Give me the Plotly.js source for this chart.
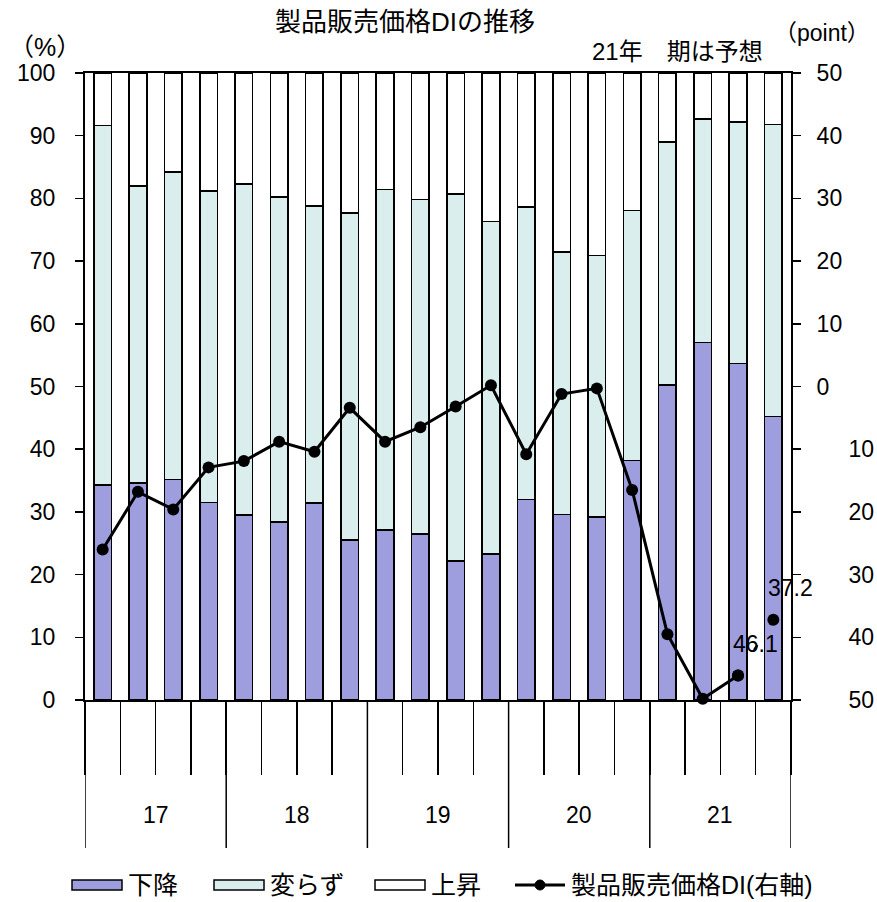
<!DOCTYPE html>
<html>
<head>
<meta charset="utf-8">
<script src="https://cdn.plot.ly/plotly-3.0.1.min.js"></script>
<style>
html,body{margin:0;padding:0;background:#fff;}
#chart{width:877px;height:902px;}
</style>
</head>
<body>
<div id="chart"></div>
<script>
// ---- data ----
var years = ['17', '18', '19', '20', '21'];
var quarters = ['1', '2', '3', '4'];
var categories = [];
years.forEach(function (y) { quarters.forEach(function (q) { categories.push(y + '-' + q); }); });

// 下降 (%)
var fall = [34.3, 34.6, 35.2, 31.5, 29.5, 28.4, 31.4, 25.5, 27.1, 26.5,
            22.2, 23.3, 32.0, 29.6, 29.2, 38.2, 50.2, 57.0, 53.7, 45.2];
// 変らず (%)
var unchanged = [57.3, 47.4, 49.0, 49.7, 52.8, 51.8, 47.4, 52.2, 54.3, 53.3,
                 58.5, 53.0, 46.6, 41.9, 41.7, 39.9, 38.8, 35.7, 38.5, 46.6];
// 上昇 (%)
var rise = [8.4, 18.0, 15.8, 18.8, 17.7, 19.8, 21.2, 22.3, 18.6, 20.2,
            19.3, 23.7, 21.4, 28.5, 29.1, 21.9, 11.0, 7.3, 7.8, 8.2];
// 製品販売価格DI (point, right axis)
var di = [-26.0, -16.8, -19.6, -12.9, -11.9, -8.8, -10.4, -3.4, -8.8, -6.5,
          -3.2, 0.2, -10.8, -1.2, -0.3, -16.5, -39.5, -49.8, -46.1, -37.2];
// labelled points (indexes)
var labelled = [18, 19];

var seriesNames = ['下降', '変らず', '上昇', '製品販売価格DI(右軸)'];
var leftTicks = [0, 10, 20, 30, 40, 50, 60, 70, 80, 90, 100];
var rightTicks = [-50, -40, -30, -20, -10, 0, 10, 20, 30, 40, 50];

// ---- styling ----
var NUM_FONT = 'Liberation Sans, Arial, Noto Sans CJK JP, sans-serif';
var JP_FONT = 'Liberation Sans, Arial, Noto Sans CJK JP, sans-serif';
var barColors = ['#9e9ede', '#daeeee', '#ffffff'];

var nSolid = di.length - 1; // last segment is drawn dashed
var barValues = [fall, unchanged, rise];

var traces = [];
barValues.forEach(function (vals, i) {
  traces.push({type: 'bar', name: seriesNames[i], x: categories, y: vals,
    marker: {color: barColors[i], line: {color: '#000', width: 1.6}}, hoverinfo: 'y+name'});
});
traces.push({type: 'scatter', mode: 'lines+markers', name: seriesNames[3],
   x: categories.slice(0, nSolid), y: di.slice(0, nSolid), yaxis: 'y2',
   line: {color: '#000', width: 3}, marker: {color: '#000', size: 12},
   cliponaxis: false});
traces.push({type: 'scatter', mode: 'lines+markers', name: seriesNames[3], showlegend: false,
   x: categories.slice(nSolid - 1), y: di.slice(nSolid - 1), yaxis: 'y2',
   line: {color: '#000', width: 2.5, dash: '6px,24px'}, marker: {color: '#000', size: 12},
   cliponaxis: false});

var L = 85, R = 86, T = 73, B = 202;
var W = 877, H = 902;
var plotW = W - L - R, plotH = H - T - B;
function px2paperX(px) { return (px - L) / plotW; }
function px2paperY(py) { return (H - B - py) / plotH; }

var shapes = [];
var annotations = [];
// year dividers (extend below the axis)
for (var k = 0; k <= years.length; k++) {
  shapes.push({type: 'line', xref: 'x', yref: 'paper',
    x0: k * quarters.length - 0.5, x1: k * quarters.length - 0.5,
    y0: 0, y1: -148 / plotH, line: {color: '#000', width: 1.5}});
}
// year labels
years.forEach(function (y, i) {
  annotations.push({xref: 'x', yref: 'paper', x: i * quarters.length + (quarters.length - 1) / 2,
    y: -115 / plotH, text: y, showarrow: false, yanchor: 'middle',
    font: {family: NUM_FONT, size: 23, color: '#000'}});
});
// value labels
labelled.forEach(function (i) {
  annotations.push({xref: 'x', yref: 'y2', x: i, y: di[i], text: Math.abs(di[i]).toFixed(1),
    showarrow: false, xshift: 17, yshift: 32,
    font: {family: NUM_FONT, size: 23, color: '#000'}});
});
// unit labels and note
annotations.push({xref: 'paper', yref: 'paper', x: px2paperX(45), y: px2paperY(47), text: '（%）',
  showarrow: false, xanchor: 'center', yanchor: 'middle', font: {family: JP_FONT, size: 25, color: '#000'}});
annotations.push({xref: 'paper', yref: 'paper', x: px2paperX(822), y: px2paperY(33), text: '（point）',
  showarrow: false, xanchor: 'center', yanchor: 'middle', font: {family: JP_FONT, size: 23, color: '#000'}});
annotations.push({xref: 'paper', yref: 'paper', x: px2paperX(677), y: px2paperY(52), text: '21年　期は予想',
  showarrow: false, xanchor: 'center', yanchor: 'middle', font: {family: JP_FONT, size: 24, color: '#000'}});

// legend (drawn to match the wide swatches of the original)
var legendY = 885;
var legendSwatchX = [72, 214, 375, 515];
var swatchW = 50, swatchH = 10;
seriesNames.forEach(function (name, i) {
  var x0 = legendSwatchX[i];
  if (i < 3) {
    shapes.push({type: 'rect', xref: 'paper', yref: 'paper',
      x0: px2paperX(x0), x1: px2paperX(x0 + swatchW),
      y0: px2paperY(legendY - swatchH / 2), y1: px2paperY(legendY + swatchH / 2),
      fillcolor: barColors[i], line: {color: '#000', width: 1.5}});
  } else {
    shapes.push({type: 'line', xref: 'paper', yref: 'paper',
      x0: px2paperX(x0), x1: px2paperX(x0 + swatchW),
      y0: px2paperY(legendY), y1: px2paperY(legendY), line: {color: '#000', width: 3}});
    shapes.push({type: 'circle', xref: 'paper', yref: 'paper',
      x0: px2paperX(x0 + swatchW / 2 - 5), x1: px2paperX(x0 + swatchW / 2 + 5),
      y0: px2paperY(legendY - 5), y1: px2paperY(legendY + 5),
      fillcolor: '#000', line: {color: '#000', width: 1}});
  }
  annotations.push({xref: 'paper', yref: 'paper', x: px2paperX(x0 + swatchW + 4), y: px2paperY(legendY),
    xanchor: 'left', yanchor: 'middle', text: name, showarrow: false,
    font: {family: JP_FONT, size: 25, color: '#000'}});
});

var layout = {
  width: W, height: H,
  margin: {l: L, r: R, t: T, b: B, pad: 0, autoexpand: false},
  paper_bgcolor: '#fff', plot_bgcolor: '#fff',
  barmode: 'stack', bargap: 0.5,
  title: {text: '製品販売価格DIの推移', x: 405 / W, xanchor: 'center', xref: 'container',
          y: 1 - 22 / H, yanchor: 'middle', yref: 'container',
          font: {family: JP_FONT, size: 26, color: '#000'}},
  font: {family: NUM_FONT, color: '#000'},
  xaxis: {type: 'category', categoryorder: 'array', categoryarray: categories,
    range: [-0.5, categories.length - 0.5], tickson: 'boundaries',
    ticks: 'outside', ticklen: 73, tickwidth: 1.5, tickcolor: '#000',
    showticklabels: false, showline: true, linecolor: '#000', linewidth: 2, mirror: true,
    showgrid: false, zeroline: false, fixedrange: true, automargin: false},
  yaxis: {range: [0, 100], tickvals: leftTicks, ticks: 'outside', ticklen: 8, tickwidth: 1.5,
    tickcolor: '#000', showline: true, linecolor: '#000', linewidth: 2, showgrid: false,
    zeroline: false, ticklabelstandoff: 15, automargin: false,
    tickfont: {family: NUM_FONT, size: 23, color: '#000'}},
  yaxis2: {overlaying: 'y', side: 'right', range: [-50, 50], tickvals: rightTicks,
    ticktext: rightTicks.map(function (v) { return (v < 0 ? '\u00a0\u00a0\u00a0\u00a0\u00a0' : '') + Math.abs(v); }),
    ticks: 'outside', ticklen: 8, tickwidth: 1.5, tickcolor: '#000',
    showline: true, linecolor: '#000', linewidth: 2, showgrid: false, zeroline: false,
    ticklabelstandoff: 11, automargin: false,
    tickfont: {family: NUM_FONT, size: 23, color: '#000'}},
  showlegend: false,
  shapes: shapes,
  annotations: annotations
};

Plotly.newPlot('chart', traces, layout, {staticPlot: true, displayModeBar: false});
</script>
</body>
</html>
